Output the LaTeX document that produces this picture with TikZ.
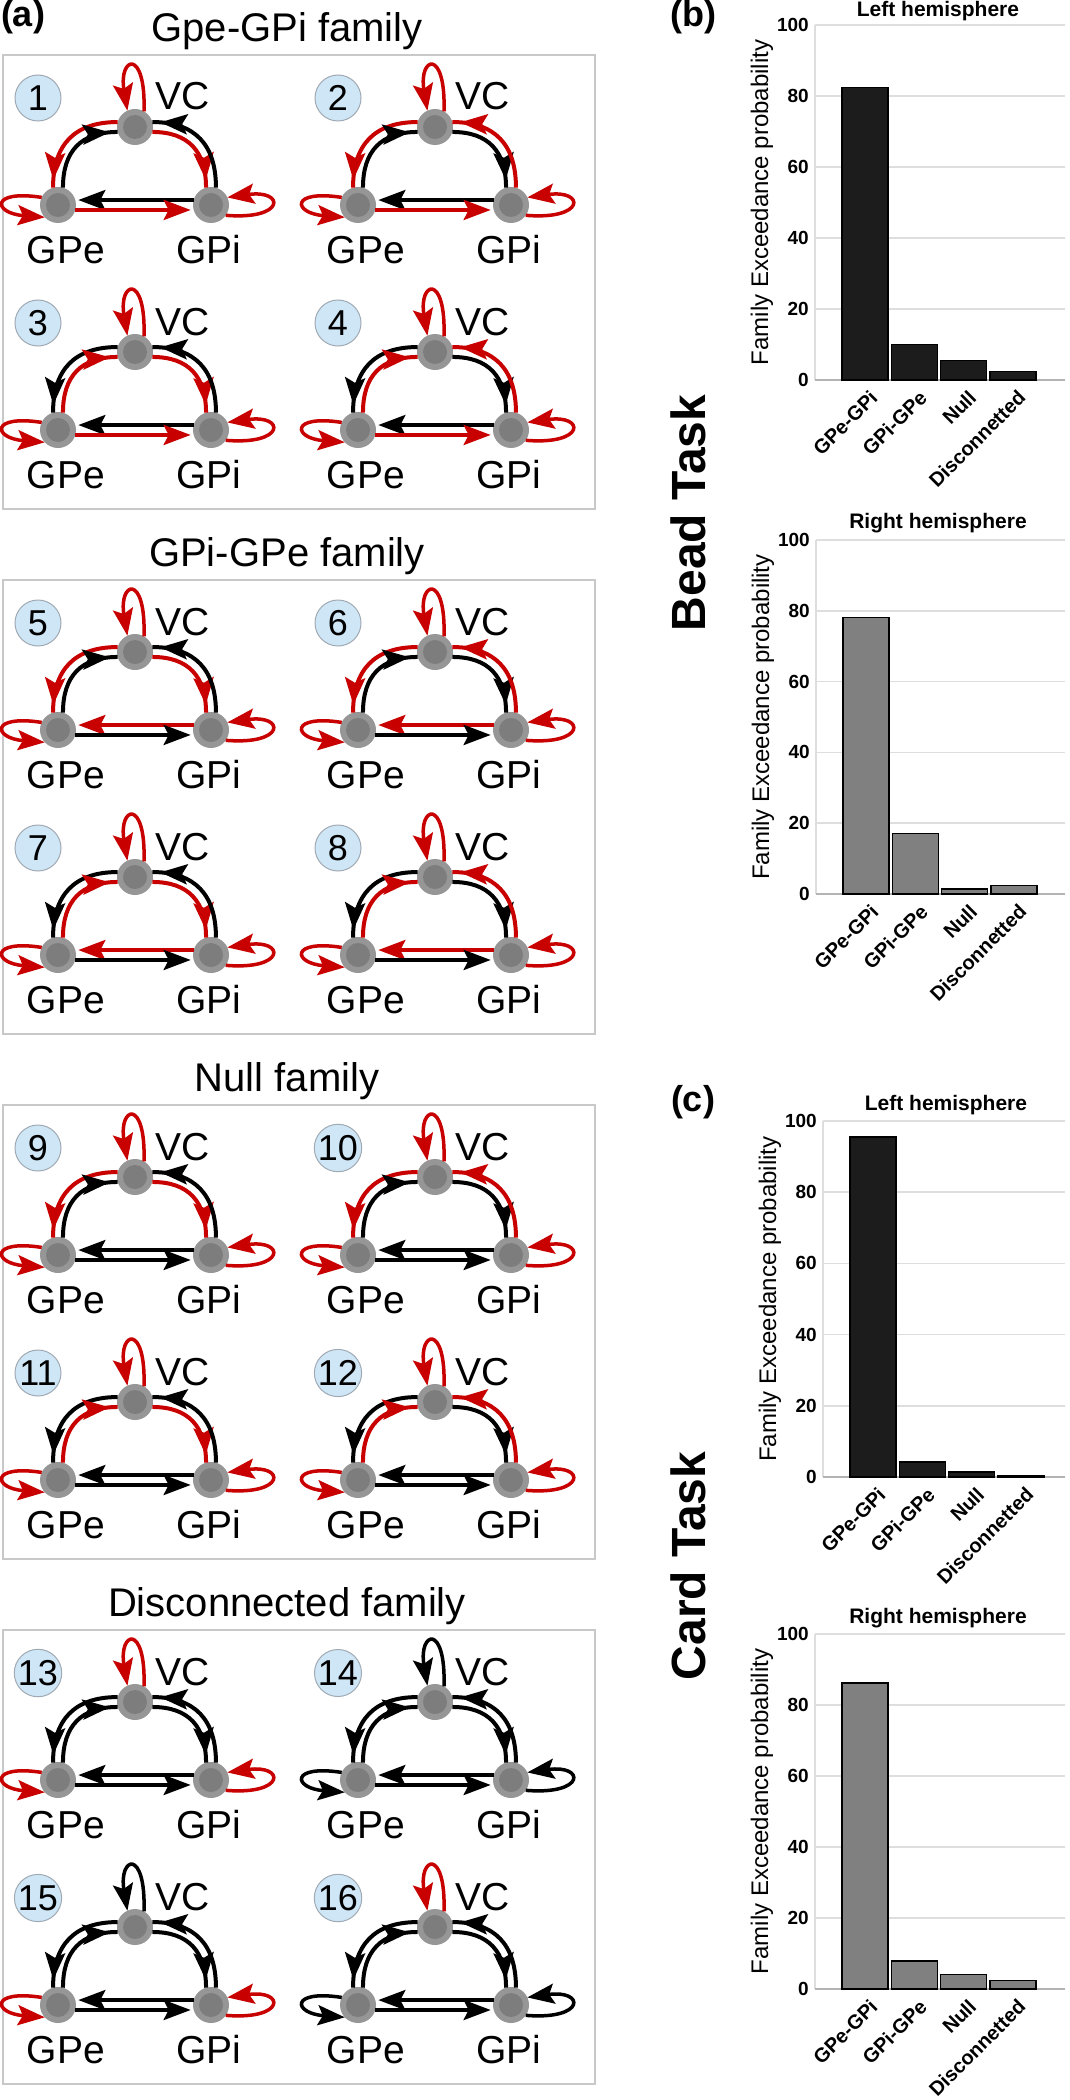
\documentclass[tikz,border=0pt]{standalone}
\usepackage{fontspec}
\setmainfont{Liberation Sans}
\usetikzlibrary{arrows.meta,decorations.markings}
\definecolor{rd}{RGB}{200,0,0}
\colorlet{bk}{black}
\definecolor{ndout}{RGB}{150,150,150}
\definecolor{ndin}{RGB}{125,125,125}
\definecolor{bdg}{RGB}{207,230,246}
\definecolor{bdgl}{RGB}{160,170,180}
\definecolor{boxc}{RGB}{200,200,200}
\definecolor{grdc}{RGB}{222,222,222}
\definecolor{axbc}{RGB}{180,180,180}
\definecolor{barA}{RGB}{28,28,28}
\definecolor{barB}{RGB}{128,128,128}
\newcommand\myfs[1]{\fontsize{#1}{#1}\selectfont}
\def\tpc{bk}\def\btc{rd}
% #1 n, #2 pos, #3 VC loop, #4 GPe loop, #5 GPi loop, #6 left outer, #7 left inner, #8 right inner, #9 right outer
\newcommand\motif[9]{%
\begin{scope}[shift={(#2)}]
\node[nd] (vc#1) at (0,0) {};
\node[nd] (ge#1) at (-77,78) {};
\node[nd] (gi#1) at (76,78) {};
\node[badge] (b#1) at (-97,-29) {#1};
\node[lab, anchor=base] (lvc#1) at (48,-17) {VC};
\node[lab, anchor=base] (lge#1) at (-69,136) {GPe};
\node[lab, anchor=base] (lgi#1) at (74,136) {GPi};
\draw[cnx=#6] (vc#1.164) to[out=180,in=90,looseness=1.2] (ge#1.106);
\draw[cnx=#7] (ge#1.74) to[out=90,in=180,looseness=1.2] (vc#1.196);
\draw[cnx=#8] (vc#1.-16) to[out=0,in=90,looseness=1.2] (gi#1.106);
\draw[cnx=#9] (gi#1.74) to[out=90,in=0,looseness=1.2] (vc#1.16);
\draw[hcnx=\tpc] (gi#1.164) -- (ge#1.16);
\draw[hcnx=\btc] (ge#1.-16) -- (gi#1.196);
\draw[slf=#3] (vc#1.60) .. controls +(2,-64) and +(-9,-54) .. (vc#1.115);
\draw[slf=#4] (ge#1.155) .. controls +(-52,-8) and +(-52,-4) .. (ge#1.223);
\draw[slf=#5] (gi#1.-35) .. controls +(60,5) and +(58,-8) .. (gi#1.25);
\end{scope}}
% #1 axis x, #2 zero y, #3 height of 100, #4 fill, #5 name, #6-#9 values
\newcommand\chart[9]{%
\foreach \k in {20,40,60,80,100}{\draw[grd] (#1,#2-\k/100*#3) -- (1065,#2-\k/100*#3);}
\draw[grd] (#1,#2) -- (#1,#2-#3);
\draw[axb] (#1,#2) -- (1065,#2);
\foreach \k in {0,20,40,60,80,100}{\node[tck] (k#5\k) at (#1-6,#2-\k/100*#3) {\k};}
\node[yl] (y#5) at (#1-53,#2-#3/2) {Family Exceedance probability};
\foreach \v [count=\i from 0] in {#6,#7,#8,#9}{\draw[barst, fill=#4] (#1+27+49.3*\i,#2) rectangle ++(46,-\v/100*#3);}
\foreach \t [count=\i from 0] in {GPe-GPi,GPi-GPe,Null,Disconnetted}{\node[xl] (x#5\i) at (#1+59+49.3*\i,#2+14) {\t};}
}
\begin{document}
\begin{tikzpicture}[x=1pt,y=-1pt,
  nd/.style={circle, fill=ndout, minimum size=36pt, inner sep=0pt, outer sep=0pt,
    path picture={\fill[ndin] (path picture bounding box.center) circle (12pt);}},
  badge/.style={circle, fill=bdg, draw=bdgl, line width=1pt, minimum size=46pt, inner sep=0pt, font=\myfs{36}},
  lab/.style={font=\myfs{39}, inner sep=0pt},
  cnx/.style={color=#1, line width=4pt, postaction={decorate, decoration={markings, mark=at position -8pt with {\arrow{Stealth[length=27pt,width=20pt,inset=5pt]}}}}},
  hcnx/.style={color=#1, line width=4pt, shorten >=3pt, -{Stealth[length=27pt,width=20pt,inset=5pt]}},
  slf/.style={color=#1, line width=3.5pt, -{Stealth[length=27pt,width=20pt,inset=5pt]}},
  boxs/.style={draw=boxc, line width=2pt},
  ftitle/.style={font=\myfs{40}, anchor=base},
  plab/.style={font=\bfseries\myfs{36}},
  grd/.style={draw=grdc, line width=1.5pt},
  axb/.style={draw=axbc, line width=2pt},
  tck/.style={font=\bfseries\myfs{19}, anchor=east, inner sep=0pt},
  yl/.style={font=\myfs{24}, rotate=90, inner sep=0pt},
  xl/.style={font=\bfseries\myfs{20}, rotate=45, anchor=east, inner sep=0pt},
  barst/.style={draw=black, line width=1.2pt},
  ctitle/.style={font=\bfseries\myfs{21}},
  task/.style={font=\bfseries\myfs{48}, rotate=90}]
\fill[white] (0,0) rectangle (1070,2100);
\useasboundingbox (0,0) rectangle (1070,2100);
% family boxes and titles
\foreach \T in {55,580,1105,1630}{\draw[boxs] (3,\T) rectangle (595,\T+454);}
\node[ftitle] (f1) at (287,42) {Gpe-GPi family};
\node[ftitle] (f2) at (287,566) {GPi-GPe family};
\node[ftitle] (f3) at (287,1091) {Null family};
\node[ftitle] (f4) at (287,1616) {Disconnected family};
\node[plab] (pa) at (23,17) {(a)};
\node[plab] (pb) at (693,17) {(b)};
\node[plab] (pc) at (693,1102) {(c)};
% motifs
\def\tpc{bk}\def\btc{rd}
\motif{1}{135,127}{rd}{rd}{rd}{rd}{bk}{rd}{bk}
\motif{2}{435,127}{rd}{rd}{rd}{rd}{bk}{bk}{rd}
\motif{3}{135,352}{rd}{rd}{rd}{bk}{rd}{rd}{bk}
\motif{4}{435,352}{rd}{rd}{rd}{bk}{rd}{bk}{rd}
\def\tpc{rd}\def\btc{bk}
\motif{5}{135,652}{rd}{rd}{rd}{rd}{bk}{rd}{bk}
\motif{6}{435,652}{rd}{rd}{rd}{rd}{bk}{bk}{rd}
\motif{7}{135,877}{rd}{rd}{rd}{bk}{rd}{rd}{bk}
\motif{8}{435,877}{rd}{rd}{rd}{bk}{rd}{bk}{rd}
\def\tpc{bk}\def\btc{bk}
\motif{9}{135,1177}{rd}{rd}{rd}{rd}{bk}{rd}{bk}
\motif{10}{435,1177}{rd}{rd}{rd}{rd}{bk}{bk}{rd}
\motif{11}{135,1402}{rd}{rd}{rd}{bk}{rd}{rd}{bk}
\motif{12}{435,1402}{rd}{rd}{rd}{bk}{rd}{bk}{rd}
\motif{13}{135,1702}{rd}{rd}{rd}{bk}{bk}{bk}{bk}
\motif{14}{435,1702}{bk}{bk}{bk}{bk}{bk}{bk}{bk}
\motif{15}{135,1927}{bk}{rd}{rd}{bk}{bk}{bk}{bk}
\motif{16}{435,1927}{rd}{bk}{bk}{bk}{bk}{bk}{bk}
% charts
\chart{815}{380}{355}{barA}{bl}{82.3}{9.9}{5.4}{2.3}
\node[ctitle] (tbl) at (938,11) {Left hemisphere};
\chart{816}{894}{354}{barB}{br}{78.2}{17.2}{1.4}{2.5}
\node[ctitle] (tbr) at (938,523) {Right hemisphere};
\chart{823}{1477}{356}{barA}{cl}{95.5}{4.2}{1.4}{0.5}
\node[ctitle] (tcl) at (946,1105) {Left hemisphere};
\chart{815}{1989}{355}{barB}{cr}{86.2}{7.9}{4.1}{2.3}
\node[ctitle] (tcr) at (938,1618) {Right hemisphere};
\node[task] (bead) at (688,513) {Bead Task};
\node[task] (card) at (688,1566) {Card Task};
\end{tikzpicture}
\end{document}
